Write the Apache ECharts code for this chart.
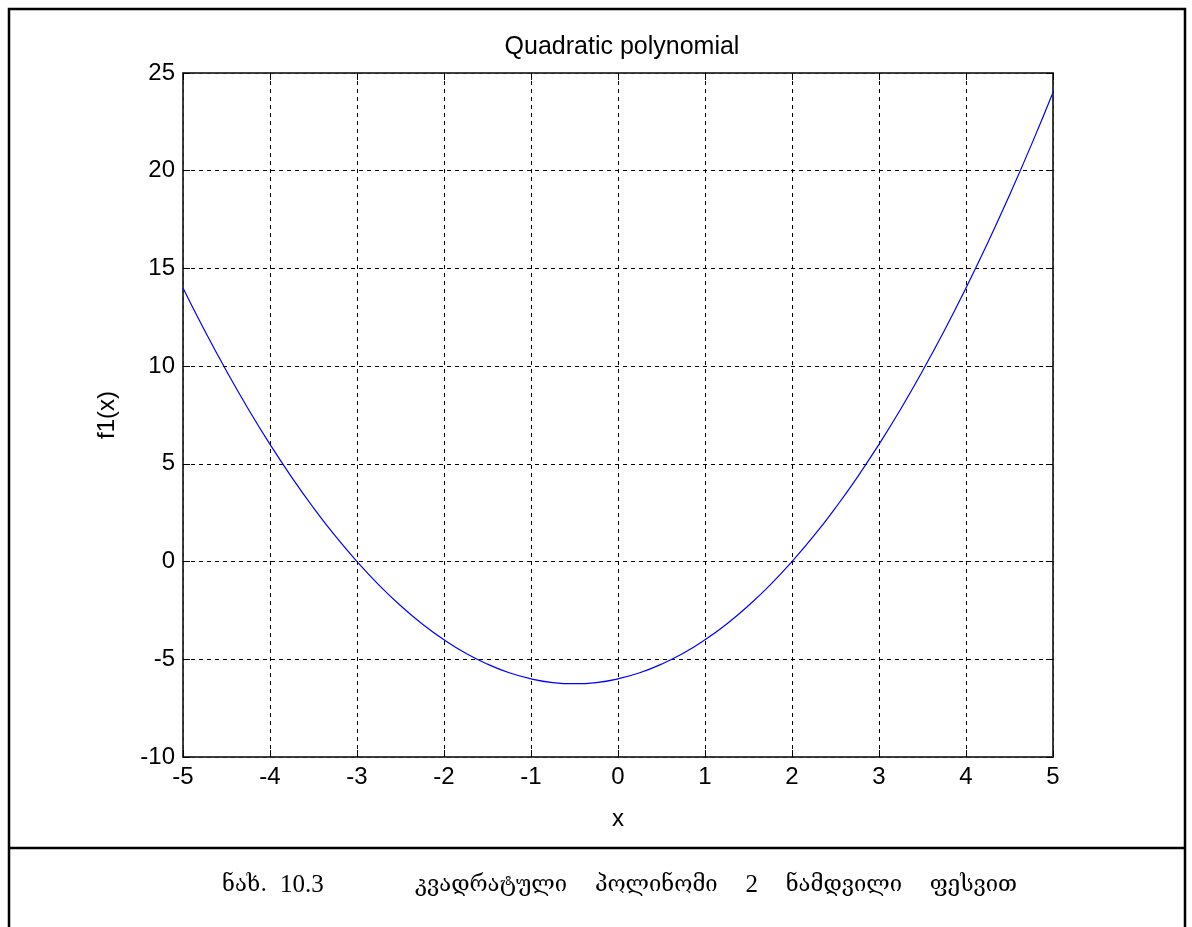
<!DOCTYPE html>
<html><head><meta charset="utf-8">
<script src="https://cdn.jsdelivr.net/npm/echarts@6/dist/echarts.min.js"></script>
<style>html,body{margin:0;padding:0;background:#fff}#c{width:1192px;height:927px}</style>
</head><body><div id="c"></div>
<script>
const xValues = [-5,-4.75,-4.5,-4.25,-4,-3.75,-3.5,-3.25,-3,-2.75,-2.5,-2.25,-2,-1.75,-1.5,-1.25,-1,-0.75,-0.5,-0.25,0,0.25,0.5,0.75,1,1.25,1.5,1.75,2,2.25,2.5,2.75,3,3.25,3.5,3.75,4,4.25,4.5,4.75,5];
const yValues = [14,11.81,9.75,7.81,6,4.31,2.75,1.31,0,-1.19,-2.25,-3.19,-4,-4.69,-5.25,-5.69,-6,-6.19,-6.25,-6.19,-6,-5.69,-5.25,-4.69,-4,-3.19,-2.25,-1.19,0,1.31,2.75,4.31,6,7.81,9.75,11.81,14,16.31,18.75,21.31,24];
const xTicks = [-5,-4,-3,-2,-1,0,1,2,3,4,5];
const yTicks = [-10,-5,0,5,10,15,20,25];
const titleText = 'Quadratic polynomial';
const xName = 'x';
const yName = 'f1(x)';
const captionLabel = 'ნახ.';
const captionNumber = '10.3';
const captionWords = ['კვადრატული', 'პოლინომი', '2', 'ნამდვილი', 'ფესვით'];

const chart = echarts.init(document.getElementById('c'));
const pts = xValues.map((x,i)=>[x,yValues[i]]);
const SANS = 'Liberation Sans, Arial, sans-serif';
const lblFont = {color:'#000', fontFamily:SANS, fontSize:24};
const gridLine = {show:true, lineStyle:{color:'#000', type:[4,4], width:1}};

// lay out caption words between a start and end x, evenly gapped
const GEO_FONT = '22px "DejaVu Serif", serif';
const NUM_FONT = '25px "Liberation Serif", serif';
const ctx = document.createElement('canvas').getContext('2d');
const fontOf = w => (w === '2' ? NUM_FONT : GEO_FONT);
const widths = captionWords.map(w => { ctx.font = fontOf(w); return ctx.measureText(w).width; });
const startX = 415, endX = 1017;
const gap = (endX - startX - widths.reduce((a,b)=>a+b,0)) / (captionWords.length - 1);
let cx = startX;
const captionGraphics = captionWords.map((w,i)=>{
  const g = {type:'text', x:cx, y:885, style:{text:w, font:fontOf(w), fill:'#000', textVerticalAlign:'middle', textAlign:'left'}};
  cx += widths[i] + gap;
  return g;
});

chart.setOption({
  animation:false,
  backgroundColor:'#fff',
  title:{text:titleText, left:617, top:30, textAlign:'center',
    textStyle:{fontFamily:SANS, fontSize:25, fontWeight:'normal', color:'#000'}},
  grid:{left:183, right:139, top:73, bottom:170, show:true, borderColor:'#333', borderWidth:1.5},
  xAxis:[{type:'value', min:-5, max:5, interval:1, position:'bottom',
    axisLine:{show:true, onZero:false, lineStyle:{color:'#333', width:1.5}},
    axisTick:{show:true, inside:true, length:7, lineStyle:{color:'#000'}},
    axisLabel:{...lblFont, margin:8, formatter:v=>String(v)},
    splitLine:gridLine,
    name:xName, nameLocation:'middle', nameGap:50, nameTextStyle:lblFont},
    {type:'value', min:-5, max:5, interval:1, position:'top',
    axisLine:{show:true, onZero:false, lineStyle:{color:'#333', width:1.5}},
    axisTick:{show:true, inside:true, length:7, lineStyle:{color:'#000'}},
    axisLabel:{show:false}, splitLine:{show:false}}],
  yAxis:[{type:'value', min:-10, max:25, interval:5, position:'left',
    axisLine:{show:true, onZero:false, lineStyle:{color:'#333', width:1.5}},
    axisTick:{show:true, inside:true, length:7, lineStyle:{color:'#000'}},
    axisLabel:{...lblFont, margin:8},
    splitLine:gridLine,
    name:yName, nameLocation:'middle', nameGap:64, nameRotate:90, nameTextStyle:lblFont},
    {type:'value', min:-10, max:25, interval:5, position:'right',
    axisLine:{show:true, onZero:false, lineStyle:{color:'#333', width:1.5}},
    axisTick:{show:true, inside:true, length:7, lineStyle:{color:'#000'}},
    axisLabel:{show:false}, splitLine:{show:false}}],
  series:[{type:'line', data:pts, smooth:true, showSymbol:false, symbol:'none',
    lineStyle:{color:'#0000ff', width:1.2}, xAxisIndex:0, yAxisIndex:0}],
  graphic:[
    {type:'rect', shape:{x:9, y:9, width:1176, height:930}, style:{fill:null, stroke:'#000', lineWidth:2.5}, silent:true},
    {type:'line', shape:{x1:9, y1:848, x2:1185, y2:848}, style:{stroke:'#000', lineWidth:2.5}, silent:true},
    {type:'text', x:222, y:885, style:{text:captionLabel, font:GEO_FONT, fill:'#000', textVerticalAlign:'middle'}},
    {type:'text', x:280, y:885, style:{text:captionNumber, font:NUM_FONT, fill:'#000', textVerticalAlign:'middle'}}
  ].concat(captionGraphics)
});
</script></body></html>
